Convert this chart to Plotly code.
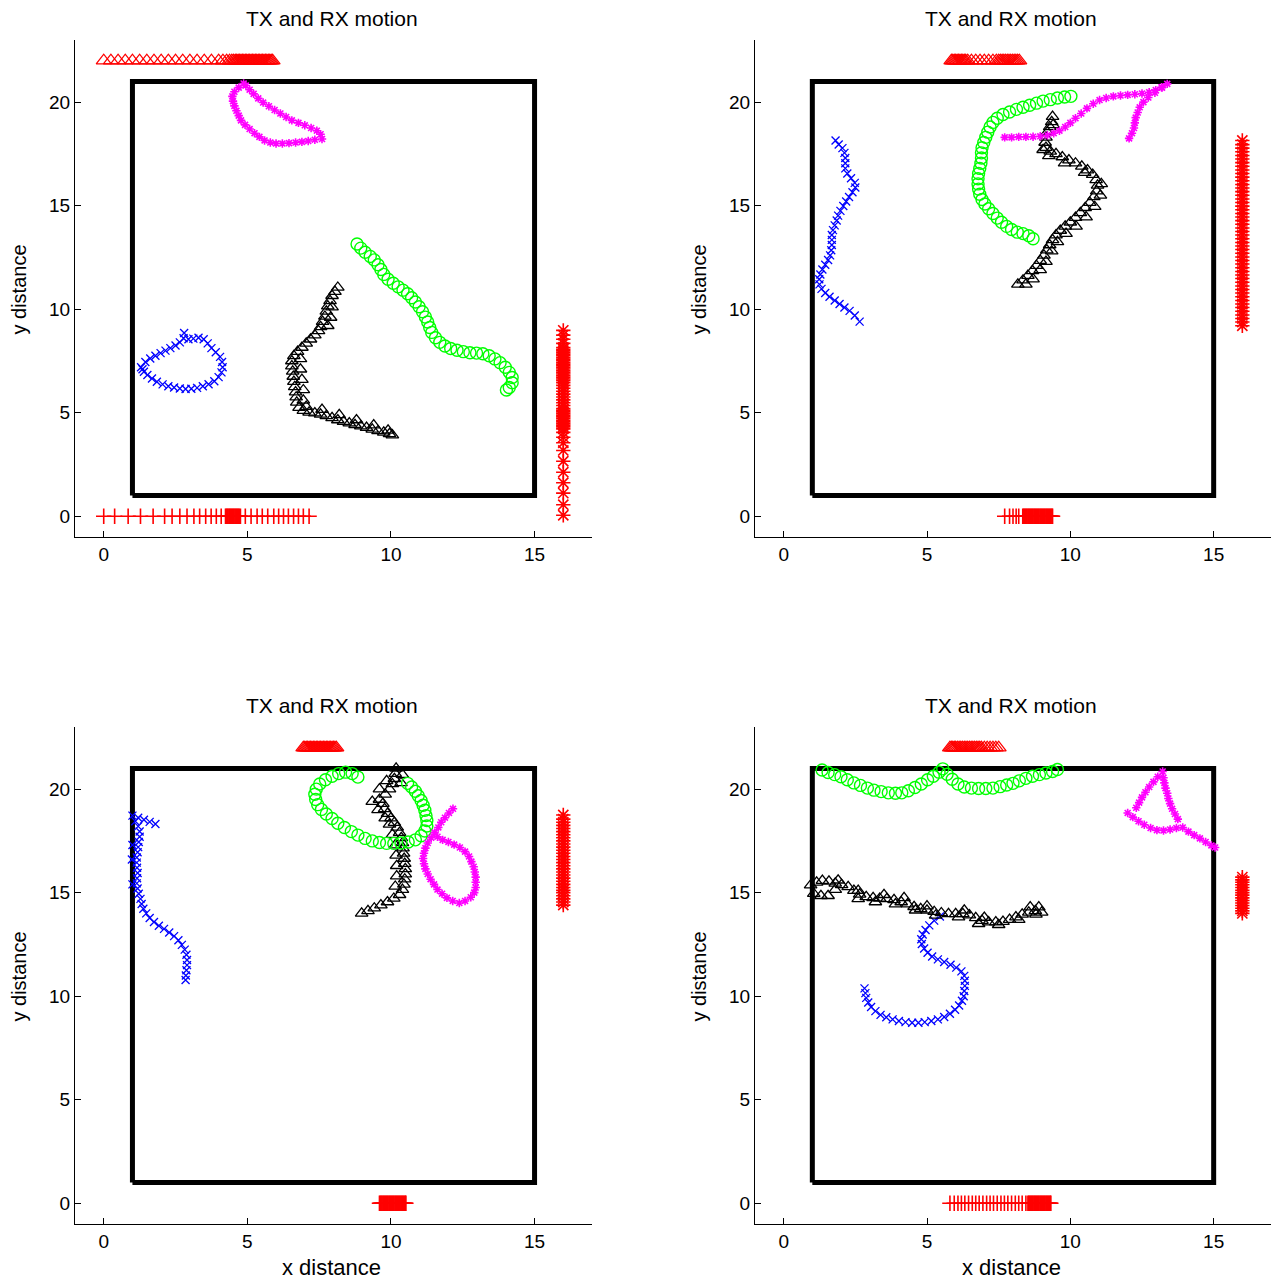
import plotly.graph_objects as go

# ---------------- data ----------------
TITLE = "TX and RX motion"
X_LABEL = "x distance"
Y_LABEL = "y distance"
X_TICKS = [0, 5, 10, 15]
Y_TICKS = [0, 5, 10, 15, 20]
X_RANGE = [-1, 17]
Y_RANGE = [-1, 23]
ROOM_X = [1, 15, 15, 1, 1]
ROOM_Y = [1, 1, 21, 21, 1]
RED_TOP_Y = 22
RED_BOTTOM_Y = 0
RED_RIGHT_X = 16

# ---- panel 1 ----
p1_blue = [(1.30,7.20),(1.45,7.45),(1.62,7.62),(1.80,7.75),(1.98,7.88),(2.15,8.00),(2.32,8.12),(2.50,8.25),
           (2.65,8.40),(2.78,8.60),(2.80,8.85),(2.95,8.55),(3.12,8.58),(3.30,8.62),(3.48,8.55),(3.62,8.35),
           (3.75,8.12),(3.90,7.92),(4.05,7.70),(4.12,7.45),(4.14,7.20),(4.10,6.95),(4.00,6.72),(3.85,6.52),
           (3.65,6.38),(3.45,6.28),(3.25,6.20),(3.05,6.16),(2.85,6.15),(2.65,6.17),(2.45,6.22),(2.25,6.28),
           (2.05,6.37),(1.85,6.50),(1.68,6.65),(1.52,6.82),(1.40,6.98),(1.35,7.10)]
p1_black = [(8.15,11.05),(8.05,10.85),(7.95,10.65),(7.88,10.40),(7.80,10.15),(7.75,9.90),(7.70,9.65),(7.62,9.40),
            (7.55,9.15),(7.48,8.95),(7.35,8.75),(7.20,8.55),(7.05,8.35),(6.90,8.15),(6.75,7.95),(6.62,7.75),
            (6.55,7.50),(6.55,7.25),(6.58,7.00),(6.60,6.75),(6.62,6.50),(6.65,6.25),(6.68,6.00),(6.70,5.75),
            (6.72,5.50),(6.80,5.25),(6.95,5.10),(7.15,5.02),(7.35,4.98),(7.55,4.92),(7.75,4.85),(7.95,4.75),
            (8.15,4.65),(8.35,4.57),(8.55,4.50),(8.75,4.42),(8.95,4.35),(9.15,4.28),(9.35,4.20),(9.55,4.12),
            (9.75,4.05),(9.95,3.98),(10.05,3.92),
            (7.95,10.10),(7.90,9.60),(7.80,9.20),(6.85,7.60),(6.85,7.10),(6.90,6.60),(6.95,6.10),(6.95,5.60),
            (7.05,5.30),(7.60,5.15),(8.20,4.90),(8.80,4.65),(9.40,4.40),(9.90,4.15)]
p1_green = [(8.82,13.15),(8.95,12.95),(9.10,12.75),(9.28,12.55),(9.42,12.38),(9.55,12.15),(9.65,11.92),(9.75,11.68),
            (9.90,11.45),(10.08,11.25),(10.25,11.08),(10.42,10.92),(10.58,10.75),(10.72,10.55),(10.85,10.35),
            (10.98,10.12),(11.10,9.88),(11.20,9.62),(11.28,9.38),(11.35,9.12),(11.42,8.88),(11.55,8.62),
            (11.70,8.40),(11.88,8.22),(12.08,8.10),(12.30,8.02),(12.52,7.95),(12.75,7.90),(12.98,7.88),
            (13.20,7.85),(13.42,7.75),(13.62,7.60),(13.80,7.42),(13.98,7.20),(14.12,6.95),(14.22,6.70),
            (14.22,6.45),(14.12,6.22),(14.02,6.10)]
p1_magenta = [(4.87,20.90),(4.70,20.70),(4.55,20.50),(4.48,20.28),(4.50,20.05),(4.55,19.82),(4.62,19.58),
              (4.70,19.35),(4.78,19.12),(4.92,18.90),(5.08,18.70),(5.25,18.50),(5.42,18.32),(5.60,18.15),
              (5.80,18.05),(6.00,18.00),(6.22,18.00),(6.45,18.02),(6.68,18.05),(6.90,18.08),(7.12,18.12),
              (7.35,18.18),(7.60,18.22),(7.55,18.45),(7.42,18.62),(7.22,18.75),(7.00,18.88),(6.78,19.00),
              (6.55,19.12),(6.35,19.28),(6.15,19.45),(5.95,19.62),(5.75,19.80),(5.55,19.98),(5.38,20.18),
              (5.22,20.40),(5.08,20.60),(4.95,20.80)]
p1_red_top_x = [0.0,0.25,0.5,0.75,1.0,1.25,1.5,1.75,2.0,2.25,2.5,2.75,3.0,3.25,3.5,3.75,4.0,4.15,4.28,4.38,
                4.46,4.52,4.58,4.63,4.68,4.73,4.78,4.83,4.88,4.93,4.98,5.03,5.08,5.13,5.18,5.23,5.28,5.33,
                5.38,5.43,5.48,5.53,5.58,5.63,5.68,5.73,5.78,5.83,5.88]
p1_red_bottom_x = [0.0,0.38,0.85,1.28,1.72,2.12,2.38,2.65,2.9,3.14,3.34,3.55,3.74,3.92,4.09,4.24,4.27,4.30,
                   4.33,4.36,4.39,4.42,4.45,4.48,4.51,4.54,4.57,4.60,4.63,4.66,4.69,4.72,4.76,4.93,5.13,5.34,
                   5.52,5.71,5.92,6.09,6.26,6.43,6.61,6.78,6.95,7.15]
p1_red_right_y = [0.05,0.56,1.12,1.62,2.13,2.66,3.18,3.55,3.82,4.05,4.22,4.32,4.40,4.48,4.56,4.64,4.72,4.80,
                  4.88,4.96,5.04,5.12,5.20,5.35,5.48,5.62,5.76,5.90,6.04,6.18,6.32,6.45,6.55,6.63,6.71,6.79,
                  6.87,6.95,7.03,7.11,7.19,7.27,7.35,7.43,7.51,7.59,7.67,7.75,7.83,7.91,7.99,8.07,8.15,8.35,
                  8.55,8.75,8.98]

# ---- panel 2 ----
p2_blue = [(1.81,18.15),(1.92,17.95),(2.05,17.78),(2.12,17.55),(2.15,17.30),(2.15,17.05),(2.15,16.80),(2.22,16.55),
           (2.35,16.32),(2.48,16.10),(2.50,15.88),(2.40,15.65),(2.28,15.42),(2.18,15.20),(2.08,14.98),(1.98,14.75),
           (1.90,14.52),(1.85,14.28),(1.78,14.05),(1.72,13.82),(1.68,13.58),(1.68,13.35),(1.68,13.10),(1.66,12.85),
           (1.62,12.60),(1.55,12.38),(1.45,12.15),(1.35,11.92),(1.28,11.68),(1.24,11.45),(1.25,11.20),(1.32,10.98),
           (1.45,10.78),(1.60,10.60),(1.78,10.42),(1.95,10.25),(2.12,10.08),(2.30,9.92),(2.48,9.70),(2.65,9.40)]
p2_black = [(8.17,11.20),(8.35,11.40),(8.52,11.62),(8.68,11.85),(8.82,12.10),(8.95,12.35),(9.08,12.60),(9.18,12.85),
            (9.28,13.10),(9.38,13.35),(9.50,13.58),(9.65,13.80),(9.82,14.00),(10.00,14.20),(10.18,14.42),
            (10.35,14.65),(10.52,14.90),(10.68,15.15),(10.82,15.42),(10.92,15.70),(10.95,15.98),(10.90,16.25),
            (10.78,16.50),(10.60,16.72),(10.40,16.90),(10.18,17.05),(9.95,17.20),(9.72,17.35),(9.50,17.50),
            (9.30,17.62),(9.15,17.80),(9.12,18.05),(9.15,18.30),(9.20,18.55),(9.28,18.80),(9.35,19.05),(9.38,19.30),
            (8.45,11.20),(8.70,11.45),(8.95,11.90),(9.15,12.30),(9.35,12.80),(9.55,13.25),(9.85,13.65),
            (10.20,14.00),(10.55,14.45),(10.85,14.95),(11.05,15.50),(11.08,16.05),(10.50,16.60),(9.80,17.05),
            (9.25,17.40),(9.05,17.70),(9.40,18.90)]
p2_green = [(10.02,20.28),(9.80,20.25),(9.55,20.20),(9.30,20.12),(9.05,20.05),(8.82,19.95),(8.58,19.85),(8.35,19.75),
            (8.12,19.65),(7.88,19.52),(7.65,19.40),(7.45,19.22),(7.30,19.02),(7.20,18.80),(7.12,18.55),(7.05,18.30),
            (6.98,18.05),(6.92,17.80),(6.90,17.55),(6.90,17.30),(6.88,17.05),(6.84,16.80),(6.80,16.55),(6.78,16.30),
            (6.78,16.05),(6.80,15.80),(6.84,15.55),(6.92,15.30),(7.02,15.08),(7.15,14.85),(7.30,14.62),(7.45,14.40),
            (7.60,14.20),(7.78,14.00),(7.95,13.85),(8.15,13.72),(8.35,13.65),(8.55,13.55),(8.70,13.40)]
p2_magenta = [(7.71,18.30),(7.95,18.30),(8.20,18.32),(8.45,18.32),(8.70,18.33),(8.95,18.35),(9.20,18.40),(9.42,18.50),
              (9.62,18.62),(9.82,18.80),(10.00,19.00),(10.18,19.22),(10.38,19.45),(10.58,19.70),(10.80,19.92),
              (11.02,20.10),(11.25,20.20),(11.50,20.28),(11.75,20.32),(12.00,20.35),(12.25,20.38),(12.50,20.42),
              (12.75,20.48),(12.98,20.58),(13.18,20.72),(13.38,20.88),(13.20,20.70),(12.95,20.45),(12.72,20.22),
              (12.55,20.00),(12.42,19.75),(12.35,19.50),(12.28,19.25),(12.25,19.00),(12.22,18.75),(12.15,18.50),
              (12.05,18.25)]
p2_red_top_x = [5.85,5.90,5.95,6.00,6.05,6.10,6.15,6.20,6.25,6.30,6.35,6.42,6.55,6.70,6.85,7.00,7.15,7.30,7.42,
                7.50,7.56,7.62,7.68,7.74,7.80,7.86,7.92,7.98,8.04,8.10,8.16,8.22]
p2_red_bottom_x = [7.71,7.88,8.00,8.11,8.20,8.34,8.37,8.40,8.43,8.46,8.49,8.52,8.55,8.58,8.61,8.64,8.67,8.70,
                   8.73,8.76,8.79,8.82,8.85,8.88,8.91,8.94,8.97,9.00,9.03,9.06,9.09,9.12,9.15,9.18,9.21,9.24,
                   9.27,9.30,9.33,9.36,9.38]
p2_red_right_y = [9.20,9.38,9.55,9.72,9.90,10.08,10.25,10.42,10.60,10.78,10.95,11.12,11.30,11.48,11.65,11.82,
                  12.00,12.18,12.35,12.52,12.70,12.88,13.05,13.22,13.40,13.58,13.75,13.92,14.10,14.28,14.45,
                  14.62,14.80,14.98,15.15,15.32,15.50,15.68,15.85,16.02,16.20,16.38,16.55,16.72,16.90,17.08,
                  17.25,17.42,17.60,17.78,17.95,18.15]

# ---- panel 3 ----
p3_blue = [(1.80,18.32),(1.60,18.42),(1.40,18.52),(1.20,18.62),(1.00,18.72),(1.10,18.45),(1.20,18.20),(1.25,17.95),
           (1.25,17.70),(1.22,17.45),(1.20,17.20),(1.18,16.95),(1.15,16.70),(1.15,16.45),(1.16,16.20),(1.18,15.95),
           (1.16,15.70),(1.15,15.45),(1.18,15.20),(1.22,14.95),(1.28,14.70),(1.32,14.45),(1.38,14.22),(1.48,14.00),
           (1.60,13.78),(1.75,13.58),(1.92,13.40),(2.10,13.25),(2.28,13.08),(2.45,12.90),(2.60,12.70),(2.72,12.48),
           (2.82,12.25),(2.88,12.00),(2.90,11.75),(2.90,11.50),(2.88,11.25),(2.86,11.00),(2.85,10.78),
           (1.00,17.30),(0.98,16.60),(1.00,15.40)]
p3_black = [(8.98,14.00),(9.20,14.12),(9.42,14.25),(9.65,14.40),(9.88,14.55),(10.10,14.72),(10.30,14.90),(10.40,15.15),
            (10.45,15.40),(10.48,15.65),(10.50,15.90),(10.50,16.15),(10.48,16.40),(10.46,16.65),(10.44,16.90),
            (10.42,17.15),(10.40,17.40),(10.36,17.65),(10.30,17.90),(10.22,18.15),(10.12,18.38),(10.00,18.60),
            (9.88,18.82),(9.78,19.05),(9.72,19.30),(9.60,19.50),(9.80,19.75),(9.95,20.00),(10.05,20.25),
            (10.12,20.50),(10.15,20.75),(10.18,21.00),
            (10.15,15.30),(10.20,15.80),(10.20,16.30),(10.18,16.80),(10.15,17.30),(10.05,17.80),(9.95,18.30),
            (9.80,18.60),(9.55,19.00),(9.35,19.40),(9.60,20.00),(9.85,20.40),(10.35,20.30),(10.40,20.70)]
p3_green = [(8.85,20.58),(8.65,20.75),(8.42,20.82),(8.18,20.75),(7.95,20.62),(7.72,20.45),(7.52,20.25),(7.40,20.00),
            (7.35,19.75),(7.38,19.50),(7.45,19.25),(7.58,19.02),(7.75,18.80),(7.95,18.58),(8.15,18.35),(8.38,18.15),
            (8.62,17.95),(8.85,17.78),(9.10,17.62),(9.35,17.50),(9.60,17.42),(9.85,17.38),(10.10,17.38),
            (10.35,17.40),(10.60,17.45),(10.85,17.55),(11.05,17.75),(11.18,17.98),(11.25,18.22),(11.25,18.48),
            (11.22,18.72),(11.18,18.98),(11.12,19.22),(11.05,19.45),(10.95,19.68),(10.85,19.90),(10.72,20.10),
            (10.58,20.28)]
p3_magenta = [(12.16,19.05),(12.02,18.85),(11.88,18.62),(11.75,18.40),(11.65,18.15),(11.52,17.90),(11.40,17.65),
              (11.28,17.40),(11.20,17.15),(11.15,16.90),(11.12,16.65),(11.15,16.40),(11.20,16.15),(11.28,15.90),
              (11.38,15.65),(11.50,15.40),(11.62,15.15),(11.78,14.95),(11.95,14.75),(12.15,14.60),(12.38,14.50),
              (12.58,14.60),(12.78,14.78),(12.90,15.00),(12.95,15.25),(12.95,15.50),(12.95,15.75),(12.92,16.00),
              (12.88,16.25),(12.80,16.50),(12.72,16.75),(12.58,16.98),(12.40,17.18),(12.20,17.32),(12.00,17.45),
              (11.80,17.55),(11.62,17.70)]
p3_red_top_x = [6.95,7.00,7.05,7.10,7.15,7.20,7.25,7.30,7.35,7.40,7.45,7.50,7.55,7.60,7.65,7.70,7.75,7.80,7.85,
                7.90,7.95,8.00,8.05,8.10]
p3_red_bottom_x = [9.60,9.63,9.66,9.69,9.72,9.75,9.78,9.81,9.84,9.87,9.90,9.93,9.96,9.99,10.02,10.05,10.08,
                   10.11,10.14,10.17,10.20,10.23,10.26,10.29,10.32,10.35,10.38,10.41,10.44,10.47,10.50,10.52]
p3_red_right_y = [14.40,14.55,14.70,14.85,15.00,15.12,15.25,15.40,15.55,15.70,15.85,16.00,16.15,16.30,16.45,
                  16.60,16.75,16.90,17.05,17.20,17.35,17.50,17.65,17.80,17.95,18.10,18.25,18.40,18.55,18.75]

# ---- panel 4 ----
p4_blue = [(5.45,13.85),(5.25,13.65),(5.08,13.42),(4.95,13.20),(4.85,12.98),(4.80,12.75),(4.82,12.52),(4.90,12.30),
           (5.02,12.10),(5.18,11.92),(5.38,11.78),(5.60,11.65),(5.82,11.52),(6.02,11.38),(6.20,11.20),(6.30,10.98),
           (6.32,10.75),(6.32,10.50),(6.30,10.25),(6.28,10.00),(6.22,9.78),(6.12,9.55),(5.98,9.35),(5.80,9.15),
           (5.60,9.00),(5.38,8.88),(5.15,8.80),(4.92,8.75),(4.70,8.72),(4.48,8.72),(4.25,8.75),(4.02,8.80),
           (3.80,8.88),(3.58,8.98),(3.38,9.10),(3.20,9.28),(3.05,9.48),(2.95,9.70),(2.88,9.92),(2.85,10.15),
           (2.82,10.38)]
p4_black = [(0.94,15.36),(1.15,15.50),(1.35,15.58),(1.58,15.55),(1.80,15.45),(2.02,15.38),(2.25,15.28),(2.45,15.10),
            (2.65,14.92),(2.88,14.80),(3.12,14.75),(3.35,14.72),(3.60,14.70),(3.85,14.65),(4.10,14.55),(4.32,14.45),
            (4.55,14.32),(4.78,14.22),(5.00,14.15),(5.25,14.08),(5.50,14.02),(5.75,13.98),(6.00,13.98),(6.25,13.98),
            (6.48,13.92),(6.70,13.78),(6.92,13.65),(7.15,13.58),(7.40,13.58),(7.65,13.60),(7.88,13.70),(8.10,13.82),
            (8.32,13.95),(8.55,14.05),(8.78,14.12),(9.00,14.05),
            (1.05,14.95),(1.30,14.85),(1.55,14.85),(1.80,15.15),(2.60,14.70),(3.20,14.55),(3.90,14.45),(4.60,14.15),
            (5.30,13.90),(6.10,13.82),(6.80,13.50),(7.50,13.45),(8.20,13.70),(8.80,13.95),(1.90,15.60),(2.60,15.10),
            (3.50,14.90),(4.20,14.75),(5.00,14.35),(6.30,14.15),(7.00,13.80),(8.60,14.30),(8.90,14.30)]
p4_green = [(1.34,20.92),(1.55,20.80),(1.78,20.70),(2.00,20.60),(2.22,20.45),(2.45,20.30),(2.68,20.18),(2.92,20.05),
            (3.15,19.95),(3.40,19.88),(3.65,19.82),(3.90,19.80),(4.12,19.82),(4.35,19.92),(4.58,20.08),(4.80,20.25),
            (5.02,20.45),(5.22,20.62),(5.42,20.82),(5.55,20.98),(5.70,20.72),(5.88,20.48),(6.08,20.25),(6.30,20.10),
            (6.55,20.05),(6.80,20.03),(7.05,20.03),(7.30,20.05),(7.55,20.12),(7.78,20.20),(8.00,20.28),(8.22,20.40),
            (8.45,20.52),(8.68,20.62),(8.92,20.70),(9.15,20.78),(9.38,20.85),(9.55,20.95)]
p4_magenta = [(12.00,18.85),(12.18,18.65),(12.38,18.45),(12.58,18.28),(12.80,18.12),(13.02,18.02),(13.25,18.00),
              (13.48,18.05),(13.70,18.12),(13.92,18.15),(14.12,17.95),(14.32,17.78),(14.52,17.62),(14.72,17.45),
              (14.92,17.28),(15.05,17.18),(13.75,18.55),(13.65,18.80),(13.55,19.05),(13.48,19.30),(13.42,19.55),
              (13.38,19.80),(13.32,20.05),(13.28,20.30),(13.25,20.55),(13.22,20.85),(13.05,20.60),(12.90,20.35),
              (12.75,20.10),(12.62,19.85),(12.50,19.60),(12.40,19.35),(12.30,19.10)]
p4_red_top_x = [5.80,5.85,5.90,5.95,6.00,6.06,6.12,6.18,6.24,6.30,6.36,6.42,6.48,6.54,6.60,6.66,6.72,6.78,6.84,
                6.90,7.00,7.10,7.20,7.30,7.40,7.50]
p4_red_bottom_x = [5.80,5.95,6.08,6.20,6.32,6.45,6.58,6.70,6.82,6.95,7.08,7.20,7.32,7.45,7.58,7.70,7.82,7.95,
                   8.08,8.20,8.32,8.45,8.52,8.55,8.58,8.61,8.64,8.67,8.70,8.73,8.76,8.79,8.82,8.85,8.88,8.91,
                   8.94,8.97,9.00,9.03,9.06,9.09,9.12,9.15,9.18,9.21,9.24,9.27,9.30,9.32]
p4_red_right_y = [14.00,14.12,14.25,14.38,14.50,14.62,14.75,14.88,15.00,15.12,15.25,15.38,15.50,15.62,15.75]

# ---------------- figure ----------------
W, H = 1271, 1279
FONT = "Liberation Sans, Arial, sans-serif"

panels = [
    dict(blue=p1_blue, black=p1_black, green=p1_green, magenta=p1_magenta,
         top=p1_red_top_x, bottom=p1_red_bottom_x, right=p1_red_right_y),
    dict(blue=p2_blue, black=p2_black, green=p2_green, magenta=p2_magenta,
         top=p2_red_top_x, bottom=p2_red_bottom_x, right=p2_red_right_y),
    dict(blue=p3_blue, black=p3_black, green=p3_green, magenta=p3_magenta,
         top=p3_red_top_x, bottom=p3_red_bottom_x, right=p3_red_right_y),
    dict(blue=p4_blue, black=p4_black, green=p4_green, magenta=p4_magenta,
         top=p4_red_top_x, bottom=p4_red_bottom_x, right=p4_red_right_y),
]

# pixel boxes of the four axes (left, right, top, bottom)
col_px = [(75, 592), (755, 1271)]
row_px = [(40, 537), (727, 1224)]

fig = go.Figure()


def mk(pts, k):
    return [p[k] for p in pts]


for i, pn in enumerate(panels):
    n = "" if i == 0 else str(i + 1)
    xa, ya = "x" + n, "y" + n
    common = dict(xaxis=xa, yaxis=ya, showlegend=False, hoverinfo="skip", cliponaxis=False)
    fig.add_trace(go.Scatter(x=ROOM_X, y=ROOM_Y, mode="lines",
                             line=dict(color="black", width=5), **common))
    fig.add_trace(go.Scatter(x=pn["top"], y=[RED_TOP_Y] * len(pn["top"]), mode="markers",
                             marker=dict(symbol="triangle-up-open", size=13, color="#FF0000",
                                         line=dict(width=1.3, color="#FF0000")), **common))
    fig.add_trace(go.Scatter(x=pn["bottom"], y=[RED_BOTTOM_Y] * len(pn["bottom"]), mode="markers",
                             marker=dict(symbol="cross-thin-open", size=11, color="#FF0000",
                                         line=dict(width=1.6, color="#FF0000")), **common))
    fig.add_trace(go.Scatter(x=[RED_RIGHT_X] * len(pn["right"]), y=pn["right"], mode="markers",
                             marker=dict(symbol="asterisk-open", size=12, color="#FF0000",
                                         line=dict(width=1.6, color="#FF0000")), **common))
    fig.add_trace(go.Scatter(x=mk(pn["blue"], 0), y=mk(pn["blue"], 1), mode="markers",
                             marker=dict(symbol="x-thin-open", size=8, color="#0000FF",
                                         line=dict(width=1.3, color="#0000FF")), **common))
    fig.add_trace(go.Scatter(x=mk(pn["black"], 0), y=mk(pn["black"], 1), mode="markers",
                             marker=dict(symbol="triangle-up-open", size=11, color="black",
                                         line=dict(width=1.3, color="black")), **common))
    fig.add_trace(go.Scatter(x=mk(pn["green"], 0), y=mk(pn["green"], 1), mode="markers",
                             marker=dict(symbol="circle-open", size=12, color="#00FF00",
                                         line=dict(width=1.4, color="#00FF00")), **common))
    fig.add_trace(go.Scatter(x=mk(pn["magenta"], 0), y=mk(pn["magenta"], 1), mode="markers",
                             marker=dict(symbol="asterisk-open", size=7, color="#FF00FF",
                                         line=dict(width=1.6, color="#FF00FF")), **common))

layout = dict(
    width=W, height=H,
    margin=dict(l=0, r=0, t=0, b=0, pad=0),
    paper_bgcolor="white", plot_bgcolor="white",
    font=dict(family=FONT, size=18, color="black"),
    showlegend=False,
)

annotations = []
for i in range(4):
    r, c = divmod(i, 2)
    n = "" if i == 0 else str(i + 1)
    l, rr = col_px[c]
    t, b = row_px[r]
    xdom = [l / W, rr / W]
    ydom = [1 - b / H, 1 - t / H]
    axcommon = dict(showgrid=False, zeroline=False, showline=True, linecolor="black", linewidth=1,
                    ticks="inside", ticklen=6, tickcolor="black", tickwidth=1,
                    tickfont=dict(family=FONT, size=19, color="black"), automargin=False, mirror=False)
    layout["xaxis" + n] = dict(domain=xdom, range=X_RANGE, tickvals=X_TICKS, anchor="y" + n, **axcommon)
    layout["yaxis" + n] = dict(domain=ydom, range=Y_RANGE, tickvals=Y_TICKS, anchor="x" + n, **axcommon)
    cx = (l + rr) / 2 - 2
    annotations.append(dict(text=TITLE, xref="paper", yref="paper", x=cx / W, y=1 - (t - 22) / H,
                            xanchor="center", yanchor="middle", showarrow=False,
                            font=dict(family=FONT, size=21, color="black")))
    annotations.append(dict(text=Y_LABEL, xref="paper", yref="paper", x=(l - 57) / W,
                            y=1 - ((t + b) / 2 + 1) / H, xanchor="center", yanchor="middle",
                            textangle=-90, showarrow=False,
                            font=dict(family=FONT, size=20, color="black")))
    if r == 1:
        annotations.append(dict(text=X_LABEL, xref="paper", yref="paper", x=cx / W,
                                y=1 - (b + 43) / H, xanchor="center", yanchor="middle", showarrow=False,
                                font=dict(family=FONT, size=22, color="black")))
layout["annotations"] = annotations

fig.update_layout(**layout)
fig.write_html("out.html")
